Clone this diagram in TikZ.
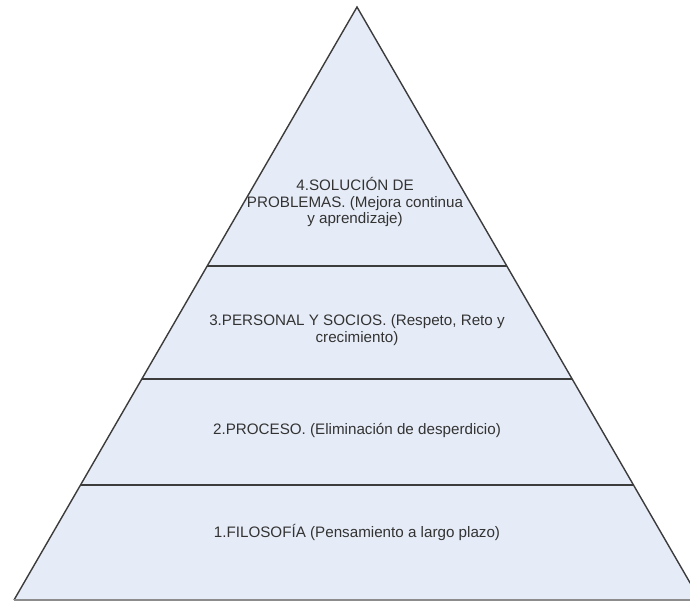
\documentclass[tikz,border=0pt]{standalone}
\usepackage{fontspec}
\setmainfont{Liberation Sans}
\usepackage{tikz}
\definecolor{capa}{RGB}{230,236,247}
\definecolor{borde}{RGB}{60,60,60}
\tikzstyle{nivel}=[font=\fontsize{10.8}{11.6}\selectfont, text=black!80,
    align=center, inner sep=0pt]

\begin{document}
\begin{tikzpicture}[x=0.025cm,y=-0.025cm]
  \useasboundingbox (0,0) rectangle (690,601);
  \clip (0,0) rectangle (690,601);
  % piramide
  \coordinate (apex) at (357,7);
  \coordinate (bl) at (14,600);
  \coordinate (br) at (700,600);
  \path[fill=capa] (apex) -- (bl) -- (br) -- cycle;
  \draw[borde, line width=1pt] (bl) -- (apex) -- (br);
  \draw[black!45, line width=1pt] (bl) -- (br);
  % separaciones
  \draw[borde, line width=1.1pt] (207,266) -- (507,266);
  \draw[borde, line width=1.1pt] (142,379) -- (572,379);
  \draw[borde, line width=1.1pt] (81,485) -- (633,485);

  \node[nivel] at (355,202) (n4) {4.SOLUCIÓN DE\\PROBLEMAS. (Mejora continua\\y aprendizaje)};
  \node[nivel] at (357,330) (n3) {3.PERSONAL Y SOCIOS. (Respeto, Reto y\\crecimiento)};
  \node[nivel] at (357,430) (n2) {2.PROCESO. (Eliminación de desperdicio)};
  \node[nivel] at (357,532) (n1) {1.FILOSOFÍA (Pensamiento a largo plazo)};
\end{tikzpicture}
\end{document}
